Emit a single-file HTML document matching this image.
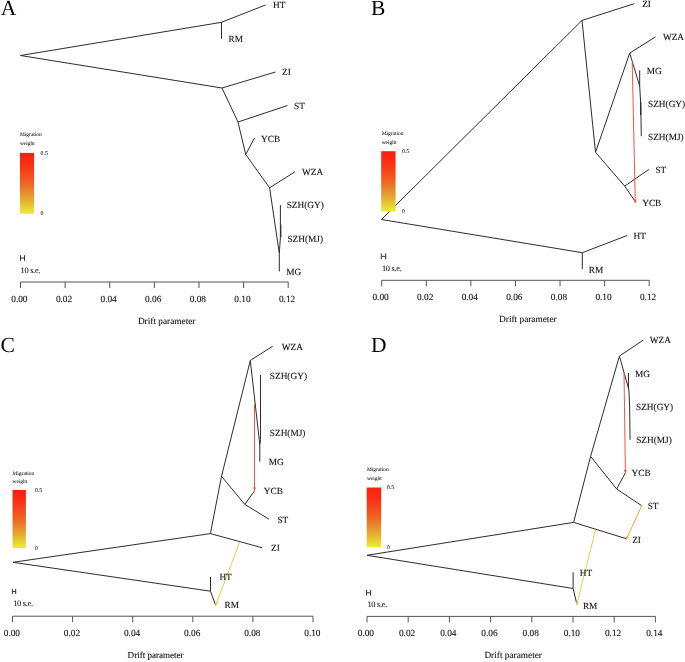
<!DOCTYPE html>
<html><head><meta charset="utf-8"><title>TreeMix</title>
<style>
html,body{margin:0;padding:0;background:#fff;}
body{width:685px;height:662px;overflow:hidden;}
svg{display:block;will-change:transform;text-rendering:geometricPrecision;font-family:"Liberation Serif",serif;}
</style></head><body>
<svg width="685" height="662" viewBox="0 0 685 662">
<defs><linearGradient id="gA" x1="0" y1="0" x2="0" y2="1"><stop offset="0" stop-color="#ff1e0e"/><stop offset="0.2" stop-color="#fa3014"/><stop offset="0.5" stop-color="#ee6424"/><stop offset="0.78" stop-color="#e4ae30"/><stop offset="1" stop-color="#eeee36"/></linearGradient><linearGradient id="gB" x1="0" y1="0" x2="0" y2="1"><stop offset="0" stop-color="#ff1e0e"/><stop offset="0.2" stop-color="#fa3014"/><stop offset="0.5" stop-color="#ee6424"/><stop offset="0.78" stop-color="#e4ae30"/><stop offset="1" stop-color="#eeee36"/></linearGradient><linearGradient id="gC" x1="0" y1="0" x2="0" y2="1"><stop offset="0" stop-color="#ff1e0e"/><stop offset="0.2" stop-color="#fa3014"/><stop offset="0.5" stop-color="#ee6424"/><stop offset="0.78" stop-color="#e4ae30"/><stop offset="1" stop-color="#eeee36"/></linearGradient><linearGradient id="gD" x1="0" y1="0" x2="0" y2="1"><stop offset="0" stop-color="#ff1e0e"/><stop offset="0.2" stop-color="#fa3014"/><stop offset="0.5" stop-color="#ee6424"/><stop offset="0.78" stop-color="#e4ae30"/><stop offset="1" stop-color="#eeee36"/></linearGradient></defs>
<rect x="0" y="0" width="685" height="662" fill="#fff"/>
<text x="0.8" y="15.3" font-size="21.5" fill="#000">A</text>
<line x1="20.5" y1="55.5" x2="221.5" y2="22.3" stroke="#2c2c2c" stroke-width="1.0"/>
<line x1="221.5" y1="22.3" x2="265.5" y2="5" stroke="#2c2c2c" stroke-width="1.0"/>
<line x1="221.5" y1="22.3" x2="221.5" y2="38.7" stroke="#2c2c2c" stroke-width="1.0"/>
<line x1="20.5" y1="55.5" x2="222" y2="88" stroke="#2c2c2c" stroke-width="1.0"/>
<line x1="222" y1="88" x2="275.5" y2="72" stroke="#2c2c2c" stroke-width="1.0"/>
<line x1="222" y1="88" x2="238" y2="122" stroke="#2c2c2c" stroke-width="1.0"/>
<line x1="238" y1="122" x2="287.5" y2="105.5" stroke="#2c2c2c" stroke-width="1.0"/>
<line x1="238" y1="122" x2="245.7" y2="154.5" stroke="#2c2c2c" stroke-width="1.0"/>
<line x1="245.7" y1="154.5" x2="254.5" y2="138" stroke="#2c2c2c" stroke-width="1.0"/>
<line x1="245.7" y1="154.5" x2="269.6" y2="187.8" stroke="#2c2c2c" stroke-width="1.0"/>
<line x1="269.6" y1="187.8" x2="295" y2="171.75" stroke="#2c2c2c" stroke-width="1.0"/>
<line x1="269.6" y1="187.8" x2="279.3" y2="253.3" stroke="#2c2c2c" stroke-width="1.0"/>
<line x1="279.3" y1="253.3" x2="279.3" y2="271.4" stroke="#2c2c2c" stroke-width="1.0"/>
<line x1="279.3" y1="253.3" x2="280.4" y2="237.4" stroke="#2c2c2c" stroke-width="1.0"/>
<line x1="280.4" y1="237.4" x2="280.4" y2="205" stroke="#2c2c2c" stroke-width="1.0"/>
<line x1="280.9" y1="237.4" x2="280.9" y2="225" stroke="#2c2c2c" stroke-width="1.0"/>
<text x="273" y="8.25" font-size="9.3" text-anchor="start" fill="#111" stroke="#111" stroke-width="0.1">HT</text>
<text x="228.5" y="41.75" font-size="9.3" text-anchor="start" fill="#111" stroke="#111" stroke-width="0.1">RM</text>
<text x="282" y="75.45" font-size="9.3" text-anchor="start" fill="#111" stroke="#111" stroke-width="0.1">ZI</text>
<text x="294" y="108.75" font-size="9.3" text-anchor="start" fill="#111" stroke="#111" stroke-width="0.1">ST</text>
<text x="261.0" y="141.75" font-size="9.3" text-anchor="start" fill="#111" stroke="#111" stroke-width="0.1">YCB</text>
<text x="302" y="175.25" font-size="9.3" text-anchor="start" fill="#111" stroke="#111" stroke-width="0.1">WZA</text>
<text x="286.7" y="208.45" font-size="9.3" text-anchor="start" fill="#111" stroke="#111" stroke-width="0.1">SZH(GY)</text>
<text x="287.4" y="241.55" font-size="9.3" text-anchor="start" fill="#111" stroke="#111" stroke-width="0.1">SZH(MJ)</text>
<text x="286.2" y="274.75" font-size="9.3" text-anchor="start" fill="#111" stroke="#111" stroke-width="0.1">MG</text>
<line x1="20.5" y1="282" x2="288.2" y2="282" stroke="#555" stroke-width="1.0"/>
<line x1="20.5" y1="282" x2="20.5" y2="288" stroke="#555" stroke-width="1.0"/>
<text x="19.4" y="301.75" font-size="9.3" text-anchor="middle" fill="#111" stroke="#111" stroke-width="0.1">0.00</text>
<line x1="65.11666666666667" y1="282" x2="65.11666666666667" y2="288" stroke="#555" stroke-width="1.0"/>
<text x="64.01666666666668" y="301.75" font-size="9.3" text-anchor="middle" fill="#111" stroke="#111" stroke-width="0.1">0.02</text>
<line x1="109.73333333333333" y1="282" x2="109.73333333333333" y2="288" stroke="#555" stroke-width="1.0"/>
<text x="108.63333333333334" y="301.75" font-size="9.3" text-anchor="middle" fill="#111" stroke="#111" stroke-width="0.1">0.04</text>
<line x1="154.35" y1="282" x2="154.35" y2="288" stroke="#555" stroke-width="1.0"/>
<text x="153.25" y="301.75" font-size="9.3" text-anchor="middle" fill="#111" stroke="#111" stroke-width="0.1">0.06</text>
<line x1="198.96666666666667" y1="282" x2="198.96666666666667" y2="288" stroke="#555" stroke-width="1.0"/>
<text x="197.86666666666667" y="301.75" font-size="9.3" text-anchor="middle" fill="#111" stroke="#111" stroke-width="0.1">0.08</text>
<line x1="243.58333333333334" y1="282" x2="243.58333333333334" y2="288" stroke="#555" stroke-width="1.0"/>
<text x="242.48333333333335" y="301.75" font-size="9.3" text-anchor="middle" fill="#111" stroke="#111" stroke-width="0.1">0.10</text>
<line x1="288.2" y1="282" x2="288.2" y2="288" stroke="#555" stroke-width="1.0"/>
<text x="287.09999999999997" y="301.75" font-size="9.3" text-anchor="middle" fill="#111" stroke="#111" stroke-width="0.1">0.12</text>
<text x="137.9" y="324.25" font-size="9.3" text-anchor="start" fill="#111" stroke="#111" stroke-width="0.1">Drift parameter</text>
<line x1="20.5" y1="255.2" x2="20.5" y2="260.9" stroke="#333" stroke-width="1.0"/>
<line x1="24.5" y1="255.2" x2="24.5" y2="260.9" stroke="#333" stroke-width="1.0"/>
<line x1="20.5" y1="258.04999999999995" x2="24.5" y2="258.04999999999995" stroke="#333" stroke-width="1.0"/>
<text x="20.6" y="273.05" font-size="8.4" letter-spacing="-0.3" fill="#111" stroke="#111" stroke-width="0.06">10 s.e.</text>
<text x="20" y="136.48" font-size="5.45" text-anchor="start" fill="#111" stroke="#111" stroke-width="0.04">Migration</text>
<text x="20" y="145.48" font-size="5.45" text-anchor="start" fill="#111" stroke="#111" stroke-width="0.04">weight</text>
<rect x="20" y="152.9" width="14.100000000000001" height="60.900000000000006" fill="url(#gA)"/>
<text x="40.6" y="154.50" font-size="5.8" text-anchor="start" fill="#111" stroke="#111" stroke-width="0.06">0.5</text>
<text x="40.6" y="215.40" font-size="5.8" text-anchor="start" fill="#111" stroke="#111" stroke-width="0.06">0</text>
<text x="371.0" y="15.1" font-size="21.5" fill="#000">B</text>
<line x1="381.4" y1="219.5" x2="582.0" y2="20.4" stroke="#2c2c2c" stroke-width="1.0"/>
<line x1="582.0" y1="20.4" x2="634.2" y2="3.7" stroke="#2c2c2c" stroke-width="1.0"/>
<line x1="582.0" y1="20.4" x2="595.5" y2="152.3" stroke="#2c2c2c" stroke-width="1.0"/>
<line x1="595.5" y1="152.3" x2="629.7" y2="53.1" stroke="#2c2c2c" stroke-width="1.0"/>
<line x1="629.7" y1="53.1" x2="655.4" y2="36.9" stroke="#2c2c2c" stroke-width="1.0"/>
<line x1="629.7" y1="53.1" x2="639.7" y2="86" stroke="#2c2c2c" stroke-width="1.0"/>
<line x1="639.7" y1="86" x2="639.7" y2="70.3" stroke="#2c2c2c" stroke-width="1.0"/>
<line x1="639.7" y1="86" x2="640.6" y2="102" stroke="#2c2c2c" stroke-width="1.0"/>
<line x1="640.6" y1="102" x2="640.7" y2="115" stroke="#2c2c2c" stroke-width="1.3"/>
<line x1="640.7" y1="102" x2="641.3" y2="136.3" stroke="#2c2c2c" stroke-width="1.0"/>
<line x1="595.5" y1="152.3" x2="624.7" y2="186.1" stroke="#2c2c2c" stroke-width="1.0"/>
<line x1="624.7" y1="186.1" x2="648.9" y2="169.4" stroke="#2c2c2c" stroke-width="1.0"/>
<line x1="624.7" y1="186.1" x2="635.4" y2="201.8" stroke="#2c2c2c" stroke-width="1.0"/>
<line x1="632.2" y1="62.3" x2="635.3" y2="203.0" stroke="#f3553d" stroke-width="1.0"/>
<polygon points="635.3,203.0 633.63,199.84 636.83,199.77" fill="#f3553d"/>
<line x1="381.4" y1="219.5" x2="582.3" y2="252.7" stroke="#2c2c2c" stroke-width="1.0"/>
<line x1="582.3" y1="252.7" x2="627.2" y2="235.5" stroke="#2c2c2c" stroke-width="1.0"/>
<line x1="582.3" y1="252.7" x2="582.3" y2="269.2" stroke="#2c2c2c" stroke-width="1.0"/>
<text x="642.2" y="7.25" font-size="9.3" text-anchor="start" fill="#111" stroke="#111" stroke-width="0.1">ZI</text>
<text x="662.9" y="40.15" font-size="9.3" text-anchor="start" fill="#111" stroke="#111" stroke-width="0.1">WZA</text>
<text x="646.7" y="73.55" font-size="9.3" text-anchor="start" fill="#111" stroke="#111" stroke-width="0.1">MG</text>
<text x="648" y="106.75" font-size="9.3" text-anchor="start" fill="#111" stroke="#111" stroke-width="0.1">SZH(GY)</text>
<text x="648" y="139.75" font-size="9.3" text-anchor="start" fill="#111" stroke="#111" stroke-width="0.1">SZH(MJ)</text>
<text x="655.4" y="172.75" font-size="9.3" text-anchor="start" fill="#111" stroke="#111" stroke-width="0.1">ST</text>
<text x="642.2" y="206.25" font-size="9.3" text-anchor="start" fill="#111" stroke="#111" stroke-width="0.1">YCB</text>
<text x="633.5" y="239.25" font-size="9.3" text-anchor="start" fill="#111" stroke="#111" stroke-width="0.1">HT</text>
<text x="588.8" y="272.85" font-size="9.3" text-anchor="start" fill="#111" stroke="#111" stroke-width="0.1">RM</text>
<line x1="381.7" y1="280.3" x2="649.2" y2="280.3" stroke="#555" stroke-width="1.0"/>
<line x1="381.7" y1="280.3" x2="381.7" y2="286.3" stroke="#555" stroke-width="1.0"/>
<text x="380.59999999999997" y="300.05" font-size="9.3" text-anchor="middle" fill="#111" stroke="#111" stroke-width="0.1">0.00</text>
<line x1="426.2833333333333" y1="280.3" x2="426.2833333333333" y2="286.3" stroke="#555" stroke-width="1.0"/>
<text x="425.1833333333333" y="300.05" font-size="9.3" text-anchor="middle" fill="#111" stroke="#111" stroke-width="0.1">0.02</text>
<line x1="470.8666666666667" y1="280.3" x2="470.8666666666667" y2="286.3" stroke="#555" stroke-width="1.0"/>
<text x="469.76666666666665" y="300.05" font-size="9.3" text-anchor="middle" fill="#111" stroke="#111" stroke-width="0.1">0.04</text>
<line x1="515.45" y1="280.3" x2="515.45" y2="286.3" stroke="#555" stroke-width="1.0"/>
<text x="514.35" y="300.05" font-size="9.3" text-anchor="middle" fill="#111" stroke="#111" stroke-width="0.1">0.06</text>
<line x1="560.0333333333333" y1="280.3" x2="560.0333333333333" y2="286.3" stroke="#555" stroke-width="1.0"/>
<text x="558.9333333333333" y="300.05" font-size="9.3" text-anchor="middle" fill="#111" stroke="#111" stroke-width="0.1">0.08</text>
<line x1="604.6166666666667" y1="280.3" x2="604.6166666666667" y2="286.3" stroke="#555" stroke-width="1.0"/>
<text x="603.5166666666667" y="300.05" font-size="9.3" text-anchor="middle" fill="#111" stroke="#111" stroke-width="0.1">0.10</text>
<line x1="649.2" y1="280.3" x2="649.2" y2="286.3" stroke="#555" stroke-width="1.0"/>
<text x="648.1" y="300.05" font-size="9.3" text-anchor="middle" fill="#111" stroke="#111" stroke-width="0.1">0.12</text>
<text x="499.1" y="322.45" font-size="9.3" text-anchor="start" fill="#111" stroke="#111" stroke-width="0.1">Drift parameter</text>
<line x1="381.3" y1="253.4" x2="381.3" y2="259.3" stroke="#333" stroke-width="1.0"/>
<line x1="385.7" y1="253.4" x2="385.7" y2="259.3" stroke="#333" stroke-width="1.0"/>
<line x1="381.3" y1="256.35" x2="385.7" y2="256.35" stroke="#333" stroke-width="1.0"/>
<text x="381.9" y="271.35" font-size="8.4" letter-spacing="-0.3" fill="#111" stroke="#111" stroke-width="0.06">10 s.e.</text>
<text x="381.7" y="134.88" font-size="5.45" text-anchor="start" fill="#111" stroke="#111" stroke-width="0.04">Migration</text>
<text x="381.7" y="144.18" font-size="5.45" text-anchor="start" fill="#111" stroke="#111" stroke-width="0.04">weight</text>
<rect x="381.2" y="151.2" width="14.400000000000034" height="60.400000000000006" fill="url(#gB)"/>
<text x="401.9" y="152.80" font-size="5.8" text-anchor="start" fill="#111" stroke="#111" stroke-width="0.06">0.5</text>
<text x="401.9" y="213.20" font-size="5.8" text-anchor="start" fill="#111" stroke="#111" stroke-width="0.06">0</text>
<text x="0.5" y="352.4" font-size="21.5" fill="#000">C</text>
<line x1="13" y1="562.3" x2="210.4" y2="533.6" stroke="#2c2c2c" stroke-width="1.0"/>
<line x1="210.4" y1="533.6" x2="262.3" y2="547.8" stroke="#2c2c2c" stroke-width="1.0"/>
<line x1="210.4" y1="533.6" x2="221.5" y2="476.3" stroke="#2c2c2c" stroke-width="1.0"/>
<line x1="221.5" y1="476.3" x2="250.3" y2="360.5" stroke="#2c2c2c" stroke-width="1.0"/>
<line x1="250.3" y1="360.5" x2="272.7" y2="346.2" stroke="#2c2c2c" stroke-width="1.0"/>
<line x1="250.3" y1="360.5" x2="259.8" y2="444.7" stroke="#2c2c2c" stroke-width="1.0"/>
<line x1="259.8" y1="444.7" x2="259.8" y2="461.6" stroke="#2c2c2c" stroke-width="1.0"/>
<line x1="259.8" y1="444.7" x2="260.5" y2="439.7" stroke="#2c2c2c" stroke-width="1.0"/>
<line x1="260.5" y1="439.7" x2="260.5" y2="374.9" stroke="#2c2c2c" stroke-width="1.0"/>
<line x1="221.5" y1="476.3" x2="244.8" y2="504.4" stroke="#2c2c2c" stroke-width="1.0"/>
<line x1="244.8" y1="504.4" x2="269" y2="519.2" stroke="#2c2c2c" stroke-width="1.0"/>
<line x1="244.8" y1="504.4" x2="254.8" y2="490.5" stroke="#2c2c2c" stroke-width="1.0"/>
<line x1="254.5" y1="403.6" x2="254.5" y2="490.6" stroke="#f3553d" stroke-width="1.0"/>
<polygon points="254.5,490.6 252.90,487.40 256.10,487.40" fill="#f3553d"/>
<line x1="13" y1="562.3" x2="210.5" y2="591.2" stroke="#2c2c2c" stroke-width="1.0"/>
<line x1="210.5" y1="591.2" x2="210.5" y2="576.8" stroke="#2c2c2c" stroke-width="1.0"/>
<line x1="210.5" y1="591.2" x2="215.6" y2="605.4" stroke="#2c2c2c" stroke-width="1.0"/>
<line x1="239.8" y1="541.8" x2="215.6" y2="605.4" stroke="#f1c843" stroke-width="1.0"/>
<polygon points="215.6,605.4 215.24,601.84 218.23,602.98" fill="#f1c843"/>
<text x="271" y="551.35" font-size="9.3" text-anchor="start" fill="#111" stroke="#111" stroke-width="0.1">ZI</text>
<text x="281.8" y="349.75" font-size="9.3" text-anchor="start" fill="#111" stroke="#111" stroke-width="0.1">WZA</text>
<text x="269.8" y="378.95" font-size="9.3" text-anchor="start" fill="#111" stroke="#111" stroke-width="0.1">SZH(GY)</text>
<text x="269.8" y="435.75" font-size="9.3" text-anchor="start" fill="#111" stroke="#111" stroke-width="0.1">SZH(MJ)</text>
<text x="268.8" y="465.15" font-size="9.3" text-anchor="start" fill="#111" stroke="#111" stroke-width="0.1">MG</text>
<text x="277.4" y="522.55" font-size="9.3" text-anchor="start" fill="#111" stroke="#111" stroke-width="0.1">ST</text>
<text x="263.8" y="493.55" font-size="9.3" text-anchor="start" fill="#111" stroke="#111" stroke-width="0.1">YCB</text>
<text x="219.4" y="580.25" font-size="9.3" text-anchor="start" fill="#111" stroke="#111" stroke-width="0.1">HT</text>
<text x="224.6" y="608.45" font-size="9.3" text-anchor="start" fill="#111" stroke="#111" stroke-width="0.1">RM</text>
<line x1="12.5" y1="616.2" x2="313" y2="616.2" stroke="#555" stroke-width="1.0"/>
<line x1="12.5" y1="616.2" x2="12.5" y2="622.2" stroke="#555" stroke-width="1.0"/>
<text x="11.9" y="636.15" font-size="9.3" text-anchor="middle" fill="#111" stroke="#111" stroke-width="0.1">0.00</text>
<line x1="72.6" y1="616.2" x2="72.6" y2="622.2" stroke="#555" stroke-width="1.0"/>
<text x="72.0" y="636.15" font-size="9.3" text-anchor="middle" fill="#111" stroke="#111" stroke-width="0.1">0.02</text>
<line x1="132.7" y1="616.2" x2="132.7" y2="622.2" stroke="#555" stroke-width="1.0"/>
<text x="132.1" y="636.15" font-size="9.3" text-anchor="middle" fill="#111" stroke="#111" stroke-width="0.1">0.04</text>
<line x1="192.8" y1="616.2" x2="192.8" y2="622.2" stroke="#555" stroke-width="1.0"/>
<text x="192.20000000000002" y="636.15" font-size="9.3" text-anchor="middle" fill="#111" stroke="#111" stroke-width="0.1">0.06</text>
<line x1="252.9" y1="616.2" x2="252.9" y2="622.2" stroke="#555" stroke-width="1.0"/>
<text x="252.3" y="636.15" font-size="9.3" text-anchor="middle" fill="#111" stroke="#111" stroke-width="0.1">0.08</text>
<line x1="313.0" y1="616.2" x2="313.0" y2="622.2" stroke="#555" stroke-width="1.0"/>
<text x="312.4" y="636.15" font-size="9.3" text-anchor="middle" fill="#111" stroke="#111" stroke-width="0.1">0.10</text>
<text x="127.6" y="657.76" font-size="9.05" text-anchor="start" fill="#111" stroke="#111" stroke-width="0.1">Drift parameter</text>
<line x1="12.4" y1="588.8" x2="12.4" y2="594.2" stroke="#333" stroke-width="1.0"/>
<line x1="15.7" y1="588.8" x2="15.7" y2="594.2" stroke="#333" stroke-width="1.0"/>
<line x1="12.4" y1="591.5" x2="15.7" y2="591.5" stroke="#333" stroke-width="1.0"/>
<text x="13.2" y="605.85" font-size="8.4" letter-spacing="-0.3" fill="#111" stroke="#111" stroke-width="0.06">10 s.e.</text>
<text x="12.5" y="474.58" font-size="5.45" text-anchor="start" fill="#111" stroke="#111" stroke-width="0.04">Migration</text>
<text x="12.5" y="482.88" font-size="5.45" text-anchor="start" fill="#111" stroke="#111" stroke-width="0.04">weight</text>
<rect x="12.5" y="490" width="13.399999999999999" height="58.10000000000002" fill="url(#gC)"/>
<text x="34.9" y="491.60" font-size="5.8" text-anchor="start" fill="#111" stroke="#111" stroke-width="0.06">0.5</text>
<text x="34.9" y="549.70" font-size="5.8" text-anchor="start" fill="#111" stroke="#111" stroke-width="0.06">0</text>
<text x="370.9" y="352.3" font-size="21.5" fill="#000">D</text>
<line x1="367" y1="555.3" x2="573.6" y2="522.4" stroke="#2c2c2c" stroke-width="1.0"/>
<line x1="573.6" y1="522.4" x2="626" y2="538.6" stroke="#2c2c2c" stroke-width="1.0"/>
<line x1="573.6" y1="522.4" x2="590.6" y2="456.4" stroke="#2c2c2c" stroke-width="1.0"/>
<line x1="590.6" y1="456.4" x2="619.4" y2="356.1" stroke="#2c2c2c" stroke-width="1.0"/>
<line x1="619.4" y1="356.1" x2="643.4" y2="340" stroke="#2c2c2c" stroke-width="1.0"/>
<line x1="619.4" y1="356.1" x2="628.9" y2="389.7" stroke="#2c2c2c" stroke-width="1.0"/>
<line x1="628.5" y1="389.7" x2="628.5" y2="372.9" stroke="#2c2c2c" stroke-width="1.0"/>
<line x1="628.9" y1="389.7" x2="629.6" y2="405" stroke="#2c2c2c" stroke-width="1.0"/>
<line x1="629.6" y1="405" x2="630.1" y2="439.7" stroke="#2c2c2c" stroke-width="1.0"/>
<line x1="590.6" y1="456.4" x2="616.7" y2="489" stroke="#2c2c2c" stroke-width="1.0"/>
<line x1="616.7" y1="489" x2="641.7" y2="505.7" stroke="#2c2c2c" stroke-width="1.0"/>
<line x1="616.7" y1="489" x2="625.3" y2="473.0" stroke="#2c2c2c" stroke-width="1.0"/>
<line x1="624.0" y1="372.0" x2="625.4" y2="473.2" stroke="#f3553d" stroke-width="1.0"/>
<polygon points="625.4,473.2 623.76,470.02 626.96,469.98" fill="#f3553d"/>
<line x1="641.7" y1="505.7" x2="626.2" y2="539.6" stroke="#eda535" stroke-width="1.0"/>
<polygon points="626.2,539.6 626.08,536.02 628.99,537.36" fill="#eda535"/>
<line x1="367" y1="555.3" x2="573.1" y2="588.5" stroke="#2c2c2c" stroke-width="1.0"/>
<line x1="573.1" y1="588.5" x2="573.1" y2="572.3" stroke="#2c2c2c" stroke-width="1.0"/>
<line x1="573.1" y1="588.5" x2="576.8" y2="603.9" stroke="#2c2c2c" stroke-width="1.0"/>
<line x1="595.5" y1="529.9" x2="576.7" y2="604.9" stroke="#f1c843" stroke-width="1.0"/>
<polygon points="576.7,604.9 575.93,601.41 579.03,602.19" fill="#f1c843"/>
<text x="632.2" y="542.65" font-size="9.3" text-anchor="start" fill="#111" stroke="#111" stroke-width="0.1">ZI</text>
<text x="649.7" y="343.25" font-size="9.3" text-anchor="start" fill="#111" stroke="#111" stroke-width="0.1">WZA</text>
<text x="634.9" y="376.95" font-size="9.3" text-anchor="start" fill="#111" stroke="#111" stroke-width="0.1">MG</text>
<text x="636" y="410.05" font-size="9.3" text-anchor="start" fill="#111" stroke="#111" stroke-width="0.1">SZH(GY)</text>
<text x="636.2" y="442.95" font-size="9.3" text-anchor="start" fill="#111" stroke="#111" stroke-width="0.1">SZH(MJ)</text>
<text x="647.7" y="509.35" font-size="9.3" text-anchor="start" fill="#111" stroke="#111" stroke-width="0.1">ST</text>
<text x="631.6" y="476.15" font-size="9.3" text-anchor="start" fill="#111" stroke="#111" stroke-width="0.1">YCB</text>
<text x="579.8" y="575.55" font-size="9.3" text-anchor="start" fill="#111" stroke="#111" stroke-width="0.1">HT</text>
<text x="582.9" y="609.05" font-size="9.3" text-anchor="start" fill="#111" stroke="#111" stroke-width="0.1">RM</text>
<line x1="367" y1="616.4" x2="655.4" y2="616.4" stroke="#555" stroke-width="1.0"/>
<line x1="367.0" y1="616.4" x2="367.0" y2="622.4" stroke="#555" stroke-width="1.0"/>
<text x="365.9" y="635.65" font-size="9.3" text-anchor="middle" fill="#111" stroke="#111" stroke-width="0.1">0.00</text>
<line x1="408.2" y1="616.4" x2="408.2" y2="622.4" stroke="#555" stroke-width="1.0"/>
<text x="407.09999999999997" y="635.65" font-size="9.3" text-anchor="middle" fill="#111" stroke="#111" stroke-width="0.1">0.02</text>
<line x1="449.4" y1="616.4" x2="449.4" y2="622.4" stroke="#555" stroke-width="1.0"/>
<text x="448.29999999999995" y="635.65" font-size="9.3" text-anchor="middle" fill="#111" stroke="#111" stroke-width="0.1">0.04</text>
<line x1="490.6" y1="616.4" x2="490.6" y2="622.4" stroke="#555" stroke-width="1.0"/>
<text x="489.5" y="635.65" font-size="9.3" text-anchor="middle" fill="#111" stroke="#111" stroke-width="0.1">0.06</text>
<line x1="531.8" y1="616.4" x2="531.8" y2="622.4" stroke="#555" stroke-width="1.0"/>
<text x="530.6999999999999" y="635.65" font-size="9.3" text-anchor="middle" fill="#111" stroke="#111" stroke-width="0.1">0.08</text>
<line x1="573.0" y1="616.4" x2="573.0" y2="622.4" stroke="#555" stroke-width="1.0"/>
<text x="571.9" y="635.65" font-size="9.3" text-anchor="middle" fill="#111" stroke="#111" stroke-width="0.1">0.10</text>
<line x1="614.2" y1="616.4" x2="614.2" y2="622.4" stroke="#555" stroke-width="1.0"/>
<text x="613.1" y="635.65" font-size="9.3" text-anchor="middle" fill="#111" stroke="#111" stroke-width="0.1">0.12</text>
<line x1="655.4" y1="616.4" x2="655.4" y2="622.4" stroke="#555" stroke-width="1.0"/>
<text x="654.3" y="635.65" font-size="9.3" text-anchor="middle" fill="#111" stroke="#111" stroke-width="0.1">0.14</text>
<text x="484.4" y="658.45" font-size="9.3" text-anchor="start" fill="#111" stroke="#111" stroke-width="0.1">Drift parameter</text>
<line x1="366.5" y1="590.0" x2="366.5" y2="595.6" stroke="#333" stroke-width="1.0"/>
<line x1="370.6" y1="590.0" x2="370.6" y2="595.6" stroke="#333" stroke-width="1.0"/>
<line x1="366.5" y1="592.8" x2="370.6" y2="592.8" stroke="#333" stroke-width="1.0"/>
<text x="367.4" y="607.25" font-size="8.4" letter-spacing="-0.3" fill="#111" stroke="#111" stroke-width="0.06">10 s.e.</text>
<text x="367" y="470.68" font-size="5.45" text-anchor="start" fill="#111" stroke="#111" stroke-width="0.04">Migration</text>
<text x="367" y="480.08" font-size="5.45" text-anchor="start" fill="#111" stroke="#111" stroke-width="0.04">weight</text>
<rect x="366.7" y="487.5" width="14.5" height="59.799999999999955" fill="url(#gD)"/>
<text x="386.9" y="489.10" font-size="5.8" text-anchor="start" fill="#111" stroke="#111" stroke-width="0.06">0.5</text>
<text x="386.9" y="548.90" font-size="5.8" text-anchor="start" fill="#111" stroke="#111" stroke-width="0.06">0</text>
</svg>
</body></html>
